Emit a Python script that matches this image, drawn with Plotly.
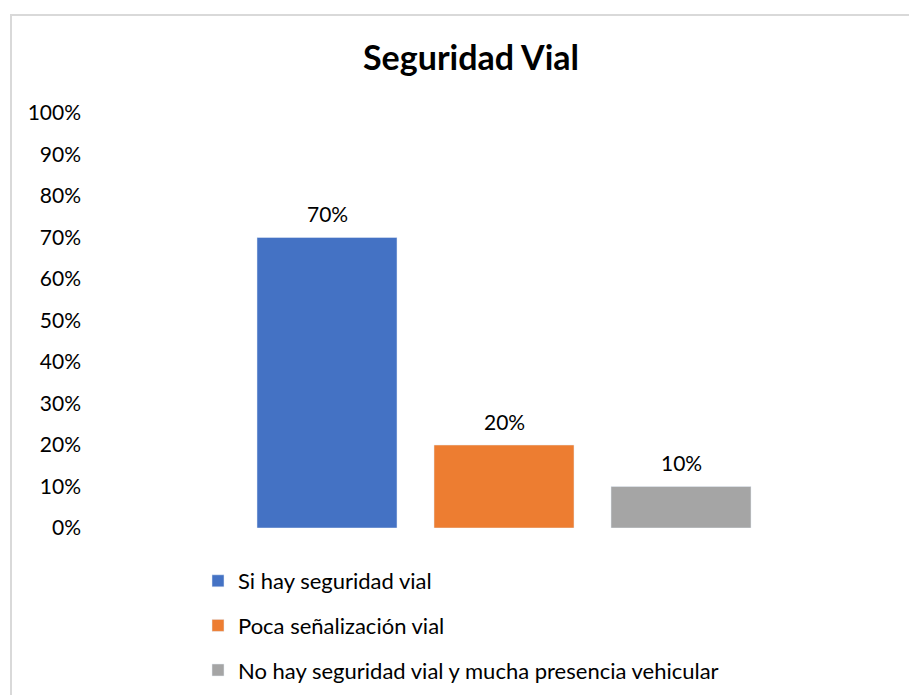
import plotly.graph_objects as go

# data
categories = ["Si hay seguridad vial", "Poca señalización vial",
              "No hay seguridad vial y mucha presencia vehicular"]
values = [0.70, 0.20, 0.10]
colors = ["#4472C4", "#ED7D31", "#A5A5A5"]
tick_vals = [i / 10 for i in range(11)]
tick_text = [f"{i * 10}%" for i in range(11)]

# the page body adds an 8px margin, so the figure is drawn a bit smaller
OFF = 8
W, H = 917 - OFF, 695 - OFF
L, R, T, B = 90 - OFF, 12, 113 - OFF, H - (528 - OFF)
pw, ph = W - L - R, H - T - B


def px_x(x):
    # page pixel -> paper coordinate
    return (x - OFF - L) / pw


def px_y(y):
    return (H - B - (y - OFF)) / ph


font = "Lato, 'Open Sans', sans-serif"
slot = 177  # px between bar centres
x0 = 327    # page px of first bar centre

fig = go.Figure()
for i, (name, val, col) in enumerate(zip(categories, values, colors)):
    fig.add_trace(go.Bar(x=[i], y=[val], name=name, marker_color=col,
                         width=140 / slot, legendgroup=name, hoverinfo="skip"))
    fig.add_annotation(x=i, y=val, text=f"{val:.0%}", showarrow=False,
                       yshift=24, font=dict(size=21, color="#000000", family=font))

# light grey chart frame
fig.add_shape(type="rect", xref="paper", yref="paper",
              x0=px_x(11), x1=px_x(960), y0=px_y(760), y1=px_y(15),
              line=dict(color="#D9D9D9", width=2), fillcolor="rgba(0,0,0,0)")

fig.update_layout(
    width=W, height=H,
    margin=dict(l=L, r=R, t=T, b=B, autoexpand=False),
    plot_bgcolor="white", paper_bgcolor="white",
    title=dict(text="<b>Seguridad Vial</b>", x=(471 - OFF) / W, xref="container", xanchor="center",
               y=1 - (58 - OFF) / H, yref="container", yanchor="middle",
               font=dict(size=34, color="#000000", family=font)),
    xaxis=dict(range=[-(x0 - OFF - L) / slot, (W - R - (x0 - OFF)) / slot],
               visible=False, fixedrange=True),
    yaxis=dict(range=[0, 1], tickvals=tick_vals, ticktext=tick_text, showgrid=False,
               zeroline=False, showline=False, ticks="", ticklabelstandoff=8,
               tickfont=dict(size=21, color="#000000", family=font)),
    showlegend=True,
    legend=dict(x=px_x(198), y=px_y(560), xanchor="left", yanchor="top",
                orientation="v", tracegroupgap=13, itemclick=False,
                font=dict(size=22, color="#000000", family=font)),
    barmode="overlay",
)

fig.write_html("out.html")
